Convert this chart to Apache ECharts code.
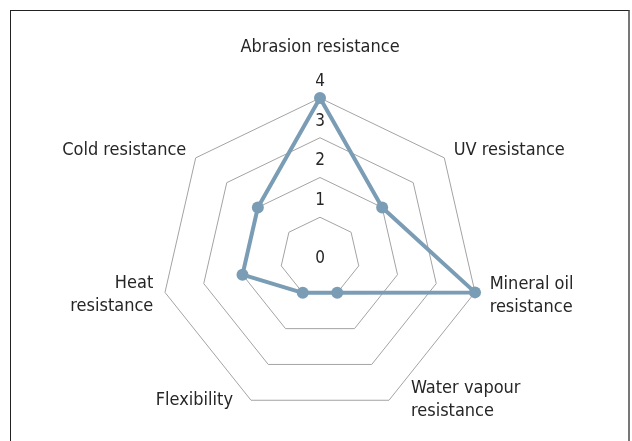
<!DOCTYPE html>
<html>
<head>
<meta charset="utf-8">
<script src="https://cdn.jsdelivr.net/npm/echarts@6/dist/echarts.min.js"></script>
<style>
  html, body { margin: 0; padding: 0; background: #fff; overflow: hidden; }
  #frame { position: absolute; left: 10px; top: 10px; width: 620px; height: 480px;
           border-left: 1.5px solid #222; border-top: 1.5px solid #222; border-right: 2px solid #777; box-sizing: border-box; }
  #chart { position: absolute; left: 0; top: 0; width: 632px; height: 441px; }
</style>
</head>
<body>
<div id="frame"></div>
<div id="chart"></div>
<script>
// clockwise order starting at the top
const categories = [
  'Abrasion resistance',
  'UV resistance',
  'Mineral oil\nresistance',
  'Water vapour\nresistance',
  'Flexibility',
  'Heat\nresistance',
  'Cold resistance'
];
const values = [4, 2, 4, 1, 1, 2, 2];
const scaleMin = 0;
const scaleMax = 4;

const FONT = "'DejaVu Sans Condensed', 'Liberation Sans Narrow', sans-serif";
const TEXT = '#262626';
const LINE = '#7a9db5';

// per-indicator name placement tweaks (layout only), clockwise order
const nameLayout = [
  { gap: 39, style: { align: 'center', verticalAlign: 'bottom' } },
  { gap: 12, style: { align: 'left', verticalAlign: 'middle' } },
  { gap: 15, style: { align: 'left', verticalAlign: 'middle' } },
  { gap: 0,  style: { align: 'left', verticalAlign: 'middle', padding: [16, 0, 0, 22] } },
  { gap: 0,  style: { align: 'right', verticalAlign: 'middle', padding: [0, 18, 4, 0] } },
  { gap: 12, style: { align: 'right', verticalAlign: 'middle' } },
  { gap: 12, style: { align: 'right', verticalAlign: 'middle' } }
];

// ECharts lays indicators counter-clockwise: keep the first, reverse the rest
const order = [0].concat(categories.map((_, i) => i).slice(1).reverse());

const indicator = order.map((i, k) => {
  const ind = {
    name: categories[i],
    min: scaleMin,
    max: scaleMax,
    nameGap: nameLayout[i].gap,
    nameTextStyle: Object.assign({
      color: TEXT, fontFamily: FONT, fontSize: 18, lineHeight: 23
    }, nameLayout[i].style)
  };
  if (k === 0) {
    ind.axisLabel = {
      show: true, color: TEXT, fontFamily: FONT, fontSize: 17,
      margin: 0, align: 'center', verticalAlign: 'middle',
      formatter: v => (v === 0 ? '{z|0}' : '{n|' + v + '}'),
      rich: {
        n: { color: TEXT, fontFamily: FONT, fontSize: 17, padding: [0, 0, 33, 0] },
        z: { color: TEXT, fontFamily: FONT, fontSize: 17, padding: [3, 0, 0, 0] }
      }
    };
  }
  return ind;
});

const chart = echarts.init(document.getElementById('chart'), null, { renderer: 'canvas' });
chart.setOption({
  animation: false,
  backgroundColor: 'transparent',
  radar: {
    center: [320, 257],
    radius: 159,
    startAngle: 90,
    shape: 'polygon',
    splitNumber: 4,
    indicator: indicator,
    axisName: { color: TEXT, fontFamily: FONT, fontSize: 18 },
    axisLine: { show: false },
    axisTick: { show: false },
    axisLabel: { show: false },
    splitArea: { show: false },
    splitLine: { lineStyle: { color: '#a3a3a3', width: 1 } }
  },
  series: [{
    type: 'radar',
    symbol: 'circle',
    symbolSize: 12,
    lineStyle: { color: LINE, width: 4 },
    itemStyle: { color: LINE },
    data: [{ value: order.map(i => values[i]) }]
  }]
});
</script>
</body>
</html>
